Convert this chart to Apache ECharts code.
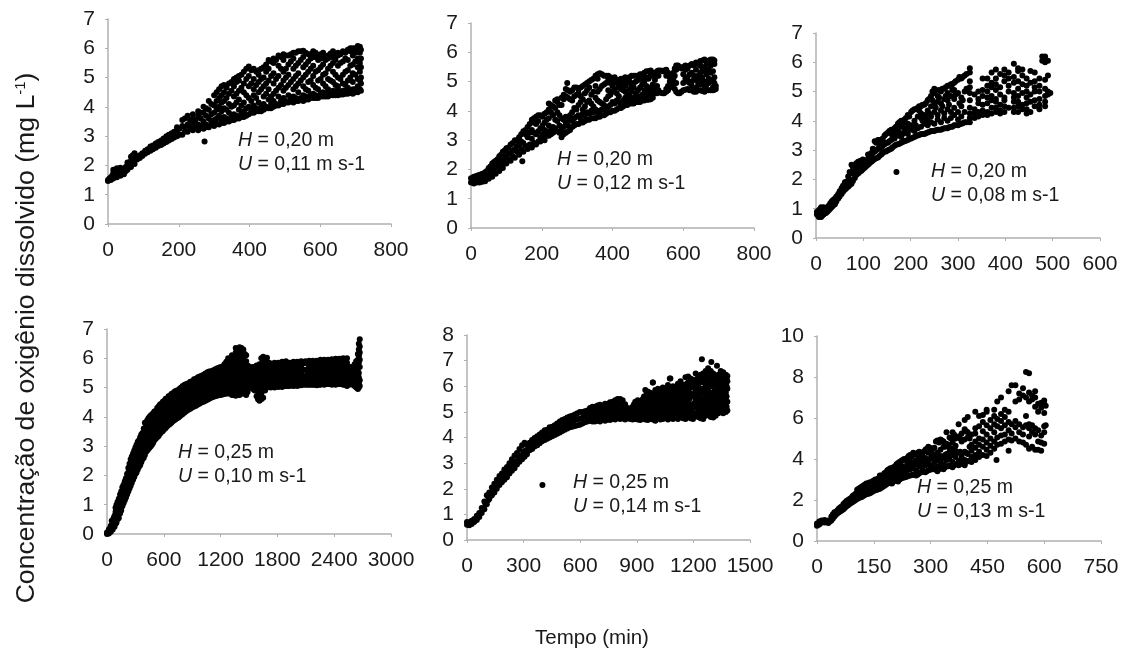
<!DOCTYPE html>
<html>
<head>
<meta charset="utf-8">
<style>
html, body { margin: 0; padding: 0; background: #fff; }
#chart { width: 1127px; height: 657px; }
</style>
<script src="https://cdn.jsdelivr.net/npm/echarts@6/dist/echarts.min.js"></script>
</head>
<body>
<div id="chart"></div>
<script>
// each row: time (min), then the concentrations read at that time
const panel1Rows = [
  [0,1.5,1.47],[8,1.5,1.6],[15,1.55,1.75,1.85],[25,1.6,1.8,1.9],[35,1.65,1.8,1.92],[45,1.7,1.85],
  [55,1.85,2.0,2.1],[65,1.95,2.15,2.3],[75,2.05,2.25,2.42],[90,2.25,2.35],[105,2.4,2.5],[120,2.5,2.65],
  [135,2.6,2.75],[150,2.7,2.85],[165,2.8,3.0],[180,2.9,3.1],[195,3.0,3.2,3.3],[210,3.05,3.35,3.55],
  [225,3.15,3.4,3.7],[240,3.2,3.45,3.6,3.75],[255,3.2,3.4,3.7,3.85],[270,3.25,3.5,3.8,4.0],[285,3.3,3.6,3.9,4.2],
  [300,3.35,3.55,3.8,4.05,4.4],[314,3.4,3.7,4.0,4.3,4.6],[328,3.45,3.65,3.95,4.2,4.5,4.75],[342,3.5,3.8,4.1,4.45,4.8],
  [356,3.55,3.75,4.05,4.35,4.7,4.95],[370,3.6,3.9,4.25,4.55,4.9,5.05],[384,3.65,3.85,4.15,4.5,4.8,5.2],
  [398,3.75,4.0,4.3,4.7,5.05,5.38],[412,3.8,4.05,4.4,4.6,4.95,5.3],[426,3.85,4.15,4.5,4.85,5.1,5.25],
  [440,3.9,4.1,4.35,4.7,5.0,5.35],[454,3.95,4.25,4.6,4.9,5.3,5.6],[468,4.0,4.2,4.45,4.8,5.15,5.5,5.65],
  [482,4.05,4.35,4.65,5.05,5.4,5.75],[496,4.1,4.3,4.55,4.9,5.2,5.6,5.8],[510,4.15,4.4,4.75,5.1,5.45,5.75],
  [524,4.15,4.35,4.6,4.95,5.3,5.65,5.85],[538,4.2,4.5,4.8,5.15,5.5,5.9],[552,4.2,4.4,4.7,5.0,5.35,5.7,5.92],
  [566,4.25,4.55,4.85,5.2,5.55,5.8],[580,4.3,4.45,4.75,5.05,5.4,5.7,5.9],[594,4.3,4.6,4.9,5.25,5.6,5.75],
  [608,4.35,4.5,4.8,5.1,5.45,5.7,5.85],[622,4.35,4.6,4.95,5.3,5.65,5.75],[636,4.4,4.55,4.85,5.2,5.5,5.7,5.9],
  [650,4.4,4.6,4.7,5.0,5.4,5.75,5.85],[664,4.42,4.55,4.8,5.1,5.55,5.9],[678,4.45,4.65,4.9,5.25,5.6,5.95],
  [692,4.45,4.6,4.85,5.15,5.45,5.75,6.0],[706,4.5,4.7,4.95,5.35,5.65,5.95,6.08],[715,4.55,4.8,5.0,5.35,5.65,5.95]
];
const panel1Fill = [
  [4,1.55],[12,1.65],[20,1.65,1.8],[30,1.7,1.85],[40,1.72,1.88],[50,1.8,1.95],[60,1.95,2.1],[70,2.05,2.2,2.35],[82,2.2,2.3],[97,2.32,2.42],
  [112,2.45,2.55],[127,2.55,2.68],[142,2.66,2.8],[157,2.75,2.92],[172,2.85,3.05],[187,2.95,3.15],[202,3.05,3.25],[217,3.15,3.3,3.6],
  [232,3.3,3.55],[247,3.3,3.55],[262,3.35,3.6,3.8],[277,3.3,3.4,3.7,3.95],[292,3.4,3.5,3.75,4.1],[307,3.42,3.6,3.9,4.2,4.5],
  [321,3.45,3.55,3.85,4.15,4.4,4.7],[335,3.5,3.6,3.9,4.3,4.65],[349,3.55,3.65,4.0,4.55,4.85],[363,3.6,3.7,4.15,4.45,4.85,5.0],
  [377,3.65,3.75,4.05,4.65,5.1],[391,3.7,3.95,4.4,4.95,5.3],[405,3.8,3.9,4.2,4.8,5.25],[419,3.85,3.95,4.3,4.75,5.2],[433,3.85,4.0,4.6,4.95,5.3],
  [447,3.95,4.0,4.45,4.8,5.2,5.45],[461,3.95,4.1,4.35,5.05,5.55],[475,4.05,4.1,4.55,4.95,5.6],[489,4.1,4.2,4.75,5.3,5.7],[503,4.15,4.2,4.65,5.0,5.3,5.75],
  [517,4.2,4.25,4.85,5.55,5.8],[531,4.2,4.3,4.7,5.05,5.4,5.85],[545,4.25,4.3,4.9,5.6,5.9],[559,4.25,4.35,4.6,5.1,5.45,5.85],[573,4.3,4.4,4.9,5.3,5.65,5.8],
  [587,4.3,4.4,4.65,5.2,5.7,5.85],[601,4.35,4.45,4.95,5.35,5.65,5.8],[615,4.35,4.45,4.7,5.15,5.6,5.72],[629,4.4,4.5,4.9,5.4,5.7,5.82],
  [643,4.4,4.5,4.75,5.1,5.6,5.75],[657,4.42,4.5,4.95,5.5,5.8],[671,4.45,4.55,4.75,5.2,5.65,5.85],[685,4.48,4.55,5.0,5.4,5.9,6.0],
  [699,4.5,4.6,5.1,5.55,5.85,6.0],[712,4.6,4.9,5.2,5.5,5.85,6.05]
];
const panel1Outliers = [[273,2.82]];

const panel2Rows = [
  [0,1.55,1.7],[8,1.52,1.62,1.75],[16,1.55,1.68,1.78],[24,1.55,1.7,1.82],[32,1.58,1.72,1.85],[40,1.6,1.78,1.9],
  [50,1.68,1.85,2.05],[60,1.75,1.95,2.2],[70,1.85,2.05,2.3],[80,1.95,2.2,2.45],[90,2.05,2.3,2.6],[100,2.2,2.45,2.72],
  [112,2.3,2.55,2.85],[124,2.4,2.7,3.0],[136,2.5,2.85,3.1],[148,2.6,2.9,3.3],[160,2.7,3.1,3.45],[172,2.75,3.05,3.35,3.7],
  [184,2.85,3.2,3.55,3.8],[196,2.95,3.1,3.4,3.85],[208,3.0,3.35,3.6,3.9],[220,3.15,3.5,3.75,4.05,4.25],[232,3.25,3.45,3.85,4.15],
  [244,3.3,3.65,3.95,4.3,4.4],[256,3.1,3.35,3.75,4.2,4.45],[268,3.25,3.6,3.8,4.5,4.75],[280,3.35,3.7,3.85,4.4,4.65],
  [292,3.5,3.75,4.1,4.5,4.8],[304,3.55,3.85,4.2,4.6,4.75],[316,3.6,3.9,4.05,4.4,4.85],[328,3.7,3.95,4.3,4.7,4.95],
  [340,3.75,4.0,4.25,4.55,5.05],[352,3.75,4.05,4.45,4.85,5.2],[364,3.8,4.0,4.3,4.75,5.28],[376,3.85,4.1,4.2,4.9,5.2],
  [388,3.95,4.15,4.5,4.7,5.1,5.2],[400,4.0,4.3,4.65,4.85,5.1],[412,4.05,4.35,4.6,4.95,5.05],[424,4.1,4.25,4.75,4.9,5.1],
  [436,4.2,4.45,4.65,4.85,5.15],[448,4.25,4.5,4.75,5.0,5.15],[460,4.25,4.45,4.8,4.95,5.2],[472,4.3,4.5,4.7,5.05,5.2],
  [484,4.35,4.55,4.9,5.1,5.25],[496,4.38,4.6,4.85,5.15,5.35],[508,4.4,4.55,4.8,5.2,5.38],[520,4.6,4.75,5.05,5.25],
  [530,4.65,4.7,5.2,5.38],[542,4.6,5.35],[552,4.65,4.75,5.2,5.4],[562,4.8,5.0,5.15],[572,4.9,5.1,5.3],[580,4.65,4.95,5.4,5.55],
  [590,4.6,5.5],[600,4.7,4.95,5.25,5.5],[612,4.75,5.0,5.15,5.45],[624,4.7,4.85,5.0,5.3,5.6],[636,4.65,4.8,5.1,5.4,5.65],
  [648,4.7,4.9,5.05,5.3,5.55,5.7],[660,4.65,4.85,5.0,5.35,5.5,5.75],[672,4.7,4.95,5.1,5.4,5.65,5.72],[684,4.7,4.8,5.05,5.35,5.75],[692,4.75,4.85]
];
const panel2Fill = [
  [4,1.6],[12,1.58,1.7],[20,1.6,1.72],[28,1.62,1.75],[36,1.68,1.8],[45,1.75,1.95],[55,1.8,1.98,2.1],[65,1.9,2.1,2.25],[75,2.0,2.2,2.35],
  [85,2.1,2.3,2.5],[95,2.2,2.4,2.65],[106,2.35,2.55,2.75],[118,2.45,2.65,2.9],[130,2.6,2.8,3.0],[142,2.7,2.95,3.2],[154,2.8,3.2,3.35],
  [166,2.85,3.25,3.55],[178,2.9,3.25,3.6,3.75],[190,2.95,3.3,3.65,3.85],[202,3.05,3.2,3.5,3.8],[214,3.15,3.3,3.7,3.95],[226,3.2,3.35,3.95,4.2],
  [238,3.3,3.4,3.7,4.1,4.35],[250,3.25,3.5,3.85,4.2],[262,3.2,3.45,3.7,4.4,4.55],[274,3.3,3.5,3.7,4.45,4.7],[286,3.45,3.65,3.95,4.35,4.7],
  [298,3.55,3.8,4.05,4.55,4.8],[310,3.6,3.75,4.3,4.5,4.8],[322,3.65,3.85,4.15,4.6,4.9],[334,3.7,3.9,4.35,4.8,5.0],[346,3.75,3.95,4.15,4.65,5.1],
  [358,3.8,3.95,4.35,4.65,5.1,5.25],[370,3.85,4.05,4.25,4.85,5.25],[382,3.9,4.05,4.4,4.95,5.2],[394,3.95,4.2,4.55,4.95,5.15],[406,4.0,4.25,4.75,5.0,5.15],
  [418,4.1,4.3,4.5,4.8,5.05],[430,4.15,4.35,4.7,5.0,5.1],[442,4.2,4.4,4.55,4.95,5.1],[454,4.25,4.4,4.65,4.9,5.2],[466,4.3,4.4,4.6,5.0,5.2],
  [478,4.3,4.45,4.8,5.1,5.25],[490,4.35,4.5,4.7,5.0,5.3],[502,4.38,4.5,4.7,5.1,5.35],[514,4.45,4.65,4.9,5.2,5.3],[526,4.6,4.85,5.2,5.35],
  [536,4.62,5.38],[546,4.6,5.38],[557,4.7,4.85,5.3],[567,4.85,5.05,5.22],[576,4.75,5.2,5.45],[585,4.6,5.55],[595,4.65,5.45],[606,4.72,5.1,5.4,5.55],
  [618,4.7,4.95,5.25,5.55],[630,4.65,5.05,5.2,5.55],[642,4.7,4.95,5.2,5.6],[654,4.68,5.15,5.45,5.72],[666,4.72,4.9,5.25,5.6],[678,4.7,5.0,5.3,5.55,5.75],[688,4.72,4.95,5.15,5.6,5.72]
];
const panel2Outliers = [[145,2.28],[272,4.95]];

const panel3Rows = [
  [2,0.8,0.9],[6,0.72,0.85,0.95],[11,0.72,0.85,1.05],[16,0.8,0.9,1.05],[21,0.85,1.0],[27,0.95,1.1],[33,1.05,1.25],[40,1.15,1.35],
  [47,1.35,1.5],[54,1.5,1.7],[61,1.65,1.9],[68,1.75,1.95,2.1],[75,1.85,2.2,2.5],[82,2.05,2.35,2.45],[89,2.2,2.4,2.6],
  [96,2.3,2.5,2.65],[103,2.4,2.6],[110,2.5,2.7,2.85],[117,2.6,2.8,2.9],[124,2.7,2.95,3.3],[131,2.75,3.05,3.35],
  [138,2.85,3.1,3.3],[145,2.95,3.2,3.5],[152,3.0,3.25,3.6],[159,3.05,3.35,3.55,3.7],[166,3.15,3.4,3.75],[173,3.2,3.5,3.65,3.9],
  [180,3.25,3.45,3.8,4.0],[187,3.3,3.6,3.75,4.05],[194,3.35,3.55,3.9,4.2],[201,3.4,3.7,3.85,4.3],[208,3.45,3.65,4.0,4.4],
  [215,3.5,3.75,4.15,4.45],[222,3.55,3.8,4.1,4.25,4.5],[229,3.55,3.9,4.2,4.55],[236,3.6,3.85,4.0,4.35,4.7],[243,3.65,3.95,4.15,4.5,4.85],
  [250,3.65,3.9,4.3,4.55,4.95,5.1],[257,3.7,4.05,4.2,4.65,4.85],[264,3.7,3.95,4.35,4.6,5.0],[271,3.75,4.1,4.25,4.75,5.1],
  [278,3.75,4.0,4.4,4.7,4.95,5.2],[285,3.8,4.1,4.3,4.85,5.25],[292,3.85,4.2,4.45,4.75,5.05,5.3],[300,3.85,4.05,4.3,4.95,5.4],
  [307,3.9,4.15,4.5,4.8,5.45],[314,3.95,4.3,5.0,5.55],[325,3.95,4.1,4.25,4.45,4.7,4.95,5.15,5.35,5.65,5.8],
  [335,4.1,4.25,4.4,4.9],[343,4.15,4.3,4.6,4.75,5.0],[352,4.2,4.35,4.55,4.85,5.05,5.45],[362,4.2,4.3,4.6,4.8,5.0,5.2,5.45],
  [371,4.25,4.45,4.7,4.85,5.15,5.3,5.65],[380,4.3,4.45,4.65,4.75,5.05,5.25,5.45,5.75],[389,4.25,4.35,4.55,4.9,5.15,5.6],
  [398,4.3,4.5,4.7,4.8,5.35,5.55,5.75],[407,4.45,5.0,5.2,5.45,5.65],[418,4.3,4.45,4.65,4.8,4.95,5.3,5.5,5.95],[427,4.3,4.5,4.65,4.85,5.1,5.35,5.7,5.8],
  [436,4.4,4.55,4.95,5.25,5.55,5.75],[445,4.25,4.4,4.6,4.8,5.0,5.2,5.45],[453,4.3,4.65,4.9,5.3,5.7],[462,4.5,4.7,5.0,5.15,5.35,5.65],
  [472,4.4,4.55,4.75,5.0,5.2,5.45],[478,6.2,6.05],[484,4.5,4.65,4.85,5.1,5.4,6.2,6.0],[490,4.9,5.0,5.55,6.05],[495,4.95]
];
const panel3Fill = [
  [4,0.78],[9,0.75,1.0],[14,0.78,0.95],[19,0.85,1.0],[24,0.9,1.05],[30,1.0,1.18],[36,1.1,1.3],[43,1.25,1.42],[50,1.42,1.6],[57,1.58,1.78],
  [64,1.7,1.92],[71,1.8,2.0,2.25],[78,1.95,2.25,2.42],[85,2.15,2.3,2.55],[92,2.25,2.45,2.62],[99,2.35,2.55,2.68],[106,2.45,2.65],[113,2.55,2.75,2.85],
  [120,2.65,2.9,3.05],[127,2.72,3.0,3.25],[134,2.8,3.05,3.2,3.35],[141,2.9,3.15,3.4],[148,2.95,3.25,3.55],[155,3.02,3.3,3.65],[162,3.1,3.4,3.7],
  [169,3.18,3.55,3.8],[176,3.22,3.6,3.95],[183,3.28,3.55,3.9],[190,3.32,3.65,4.1],[197,3.38,3.8,4.15],[204,3.42,3.75,4.35],[211,3.48,3.85,4.4],
  [218,3.52,4.35,4.5],[225,3.55,4.0,4.55],[232,3.58,4.1,4.6],[239,3.62,4.25,4.75],[246,3.65,4.7,5.0],[253,3.68,4.45,5.05],
  [260,3.7,4.8,5.05],[267,3.72,4.5,5.1],[274,3.75,4.85,5.15],[281,3.78,4.55,5.2],[288,3.8,5.05,5.25],
  [295,3.85,4.9,5.35],[303,3.88,4.6,5.5],[310,3.92,4.7,5.5],[318,3.95,5.1,5.6]
];
const panel3Outliers = [[170,2.25]];

const panel4Rows = [
  [0,0,0.05],[20,0.02,0.15],[40,0.08,0.28],[60,0.15,0.42],[80,0.25,0.62],[100,0.38,0.8,1.0],[125,0.55,0.85,1.2],[150,0.8,1.1,1.45],
  [175,1.05,1.35,1.68],[200,1.25,1.55,1.9],[225,1.45,1.75,2.1,2.25],[250,1.65,1.95,2.3,2.55],[275,1.85,2.15,2.5,2.75],
  [300,2.05,2.35,2.7,2.95],[325,2.2,2.5,2.8,3.15],[350,2.35,2.65,2.95,3.3],[375,2.55,2.8,3.1,3.45],[400,2.7,2.95,3.25,3.6,3.8],
  [425,2.85,3.05,3.35,3.65,3.88],[450,2.95,3.2,3.45,3.75,4.0],[475,3.05,3.3,3.6,3.85,4.08],[500,3.2,3.4,3.65,3.95,4.18],
  [530,3.3,3.55,3.8,4.05,4.3],[560,3.42,3.65,3.9,4.15,4.42],[590,3.52,3.75,4.0,4.25,4.52],[620,3.62,3.85,4.1,4.35,4.62],
  [650,3.72,3.95,4.2,4.45,4.7],[680,3.8,4.02,4.25,4.5,4.78],[710,3.88,4.1,4.35,4.6,4.85],[740,3.95,4.18,4.4,4.65,4.9],
  [770,4.02,4.25,4.5,4.72,4.97],[800,4.1,4.32,4.55,4.8,5.05],[840,4.2,4.4,4.62,4.85,5.12],[880,4.28,4.5,4.7,4.95,5.2],
  [920,4.35,4.55,4.78,5.0,5.28],[960,4.42,4.62,4.85,5.1,5.35],[1000,4.5,4.7,4.92,5.15,5.4],[1040,4.55,4.75,5.0,5.25,5.48],
  [1080,4.62,4.82,5.05,5.3,5.55],[1120,4.68,4.88,5.1,5.35,5.58],[1160,4.72,4.92,5.15,5.4,5.65],[1200,4.75,4.95,5.2,5.45,5.7],
  [1240,4.78,5.0,5.22,5.5,5.8],[1280,4.8,5.0,5.25,5.55,5.8,6.0],[1320,4.75,5.0,5.3,5.6,5.85,6.1],[1360,4.72,5.0,5.25,5.6,5.9,6.2,6.35],
  [1400,4.75,5.0,5.3,5.65,6.0,6.25,6.38],[1440,4.8,5.05,5.35,5.7,6.0,6.3],[1470,4.75,5.05,5.3,5.6,5.9,6.1],[1500,5.0,5.2,5.4,5.6,5.72],
  [1540,4.95,5.15,5.35,5.55,5.7],[1580,4.7,4.95,5.2,5.4,5.6,5.75],[1610,4.55,4.85,5.1,5.35,5.6,5.8],[1650,4.65,4.95,5.2,5.45,5.7,5.9,6.05],
  [1690,5.0,5.2,5.4,5.65,5.85,6.02],[1730,5.0,5.2,5.4,5.6,5.82],[1770,5.0,5.2,5.42,5.65,5.85],[1810,5.02,5.22,5.4,5.6,5.85],
  [1850,5.02,5.2,5.42,5.65,5.88],[1890,5.05,5.25,5.45,5.65,5.9],[1930,5.05,5.22,5.42,5.62,5.85],[1970,5.05,5.25,5.45,5.68,5.88],
  [2010,5.05,5.25,5.42,5.62,5.88],[2050,5.08,5.28,5.48,5.7,5.9],[2095,5.1,5.3,5.6,5.9],[2135,5.1,5.3,5.5,5.7,5.92],
  [2175,5.1,5.3,5.5,5.72,5.92],[2215,5.08,5.28,5.48,5.7,5.92],[2255,5.1,5.3,5.52,5.72,5.95],[2295,5.1,5.32,5.5,5.75,5.95],
  [2335,5.12,5.3,5.52,5.72,5.95],[2375,5.1,5.3,5.5,5.75,5.97],[2415,5.1,5.3,5.52,5.75,5.98],[2455,5.12,5.32,5.55,5.75,5.98],
  [2495,5.1,5.3,5.52,5.75,6.0],[2535,5.05,5.25,5.45,5.65,5.85,6.0],[2575,5.15,5.35,5.5,5.65],[2615,5.05,5.25,5.45,5.65,5.8],
  [2650,4.95,5.15,5.35,5.55,5.75,5.95,6.15],[2670,5.05,5.25,5.7,5.95,6.2,6.4,6.65]
];
const panel4Fill = [
  [10,0.05],[30,0.1,0.2],[50,0.15,0.3,0.45],[70,0.25,0.4,0.55],[90,0.35,0.55,0.75,0.9],[112,0.5,0.7,0.95,1.1],[138,0.7,0.95,1.2,1.35],[162,0.95,1.2,1.45,1.6],
  [188,1.15,1.4,1.65,1.8],[212,1.35,1.6,1.85,2.05],[238,1.55,1.8,2.05,2.3,2.4],[262,1.75,2.0,2.25,2.5,2.65],[288,1.95,2.2,2.45,2.7,2.85],[312,2.1,2.35,2.6,2.85,3.05],
  [338,2.3,2.5,2.75,3.0,3.2],[362,2.45,2.7,2.95,3.2,3.4],[388,2.6,2.85,3.1,3.35,3.6],[412,2.8,3.0,3.2,3.45,3.75],[438,2.9,3.1,3.3,3.55,3.8,3.95],
  [462,3.0,3.2,3.45,3.7,3.95,4.05],[488,3.12,3.3,3.52,3.8,4.0,4.12],[515,3.25,3.48,3.72,3.98,4.2],[545,3.35,3.58,3.82,4.08,4.35],[575,3.48,3.7,3.95,4.2,4.45],
  [605,3.58,3.8,4.05,4.3,4.55],[635,3.68,3.9,4.15,4.38,4.62],[665,3.76,4.0,4.22,4.48,4.72],[695,3.85,4.05,4.3,4.55,4.8],[725,3.92,4.15,4.38,4.62,4.88],
  [755,3.98,4.2,4.42,4.68,4.92],[785,4.06,4.28,4.5,4.75,5.0],[820,4.15,4.35,4.55,4.8,5.05,5.1],[860,4.24,4.45,4.65,4.9,5.15],[900,4.32,4.52,4.72,4.98,5.22],
  [940,4.38,4.58,4.8,5.05,5.3],[980,4.46,4.66,4.88,5.12,5.38],[1020,4.52,4.72,4.95,5.2,5.44],[1060,4.58,4.78,5.02,5.28,5.52],[1100,4.65,4.85,5.08,5.32,5.56],
  [1140,4.7,4.9,5.12,5.38,5.62],[1180,4.74,4.92,5.18,5.42,5.68],[1220,4.76,4.98,5.22,5.48,5.72],[1260,4.8,4.9,5.1,5.38,5.65,5.88],[1300,4.8,4.9,5.12,5.42,5.7,5.95],
  [1340,4.75,4.88,5.12,5.45,5.75,6.05],[1380,4.75,4.88,5.15,5.48,5.8,6.1,6.32],[1420,4.8,4.9,5.18,5.5,5.85,6.15,6.35],[1455,4.8,4.92,5.2,5.5,5.85,6.15],
  [1485,4.85,5.1,5.3,5.5,5.75],[1520,5.0,5.1,5.3,5.5,5.65],[1560,4.9,5.05,5.25,5.45,5.65],[1595,4.6,4.75,5.0,5.25,5.5,5.7],[1630,4.6,4.8,5.05,5.3,5.55,5.8,6.0],
  [1670,4.9,5.1,5.3,5.55,5.8,5.98],[1710,5.05,5.1,5.3,5.5,5.7,5.85],[1750,5.05,5.1,5.3,5.52,5.75],[1790,5.05,5.12,5.32,5.52,5.75],[1830,5.05,5.12,5.32,5.55,5.78],
  [1870,5.05,5.15,5.35,5.55,5.78],[1910,5.05,5.15,5.35,5.55,5.75],[1950,5.08,5.15,5.35,5.58,5.78],[1990,5.08,5.15,5.35,5.55,5.78],[2030,5.08,5.18,5.38,5.6,5.8],
  [2070,5.1,5.2,5.4,5.62,5.82],[2115,5.1,5.2,5.42,5.62,5.82],[2155,5.1,5.2,5.4,5.62,5.82],[2195,5.1,5.2,5.4,5.6,5.82],[2235,5.1,5.2,5.42,5.62,5.84],
  [2275,5.12,5.2,5.42,5.64,5.85],[2315,5.12,5.22,5.42,5.64,5.85],[2355,5.12,5.2,5.4,5.64,5.86],[2395,5.12,5.2,5.42,5.64,5.86],[2435,5.12,5.22,5.44,5.64,5.88],
  [2475,5.12,5.2,5.42,5.64,5.88],[2515,5.1,5.15,5.35,5.55,5.75,5.9],[2555,5.1,5.25,5.4,5.6,5.72],[2595,5.1,5.25,5.4,5.55,5.7],[2632,5.0,5.15,5.35,5.55,5.75,5.9],
  [2660,5.0,5.15,5.35,5.5,5.85,6.1,6.3,6.5],
  [505,3.3,3.52,3.8,4.06],[535,3.42,3.67,3.92,4.18],[565,3.54,3.78,4.03,4.28],[595,3.64,3.88,4.12,4.38],[625,3.74,3.98,4.22,4.48],[655,3.84,4.08,4.32,4.58],
  [685,3.92,4.14,4.38,4.64],[715,4.0,4.22,4.48,4.72],[745,4.06,4.3,4.52,4.78],[775,4.14,4.38,4.6,4.85],[805,4.22,4.44,4.68,4.92],[845,4.3,4.52,4.74,5.0],
  [885,4.4,4.6,4.82,5.08],[925,4.46,4.66,4.9,5.14],[965,4.52,4.74,4.98,5.22],[1005,4.6,4.82,5.04,5.28],[1045,4.65,4.88,5.12,5.36],[1085,4.72,4.94,5.18,5.42],
  [1125,4.78,5.0,5.22,5.46],[1165,4.82,5.04,5.28,5.52],[1205,4.85,5.08,5.32,5.58],[1245,4.88,5.1,5.36,5.65],[1285,4.95,5.15,5.4,5.68,5.9],[1325,4.88,5.15,5.45,5.72,5.98],
  [1365,4.85,5.12,5.42,5.75,6.05],[1405,4.88,5.15,5.48,5.82,6.12],[1445,4.92,5.2,5.52,5.85,6.15]
];
const panel4Outliers = [[2660,6.1]];

const panel5Rows = [
  [0,0.6,0.7],[12,0.58,0.68],[25,0.62,0.75],[38,0.7,0.82],[52,0.78,0.95],[65,0.9,1.05],[78,1.05,1.25],[92,1.2,1.5],[105,1.4,1.75],
  [118,1.6,1.85],[132,1.75,2.05],[145,1.85,2.2],[158,2.0,2.35],[172,2.15,2.5],[185,2.25,2.6],[198,2.35,2.75],[212,2.45,2.85],
  [225,2.6,3.0],[238,2.7,3.15],[252,2.8,3.3],[265,2.95,3.4],[278,3.05,3.55],[292,3.15,3.7],[305,3.25,3.8],[318,3.35,3.72],
  [332,3.5,3.8],[345,3.55,3.9],[358,3.65,3.98],[372,3.7,4.05],[385,3.78,4.12],[398,3.85,4.2],[412,3.9,4.28],[425,3.95,4.3],
  [438,4.0,4.4],[452,4.05,4.42],[465,4.1,4.48],[478,4.15,4.55],[492,4.2,4.62],[505,4.25,4.68],[518,4.3,4.72],[532,4.35,4.78],
  [545,4.4,4.82],[558,4.42,4.85],[572,4.45,4.9],[585,4.48,4.95],[598,4.5,5.0],[612,4.55,5.0],[625,4.6,5.02],[638,4.62,5.05],
  [652,4.65,4.9,5.15],[665,4.62,4.85,5.2],[678,4.62,4.95,5.2],[692,4.65,4.9,5.25],[705,4.62,4.95,5.28],[718,4.68,4.95,5.25],
  [732,4.65,5.0,5.32],[745,4.7,5.0,5.3],[758,4.68,5.05,5.38],[772,4.72,5.0,5.4],[785,4.7,5.05,5.45],[798,4.75,5.1,5.5],
  [812,4.72,5.05,5.5],[825,4.75,5.1,5.45],[838,4.7,5.0,5.3],[852,4.75,4.95,5.15],[865,4.72,4.9,5.1],[878,4.7,4.95,5.2],
  [892,4.72,5.0,5.4],[905,4.7,4.95,5.25,5.45],[918,4.68,5.0,5.3,5.4],[932,4.72,4.95,5.2,5.5],[945,4.7,5.0,5.35,5.85],
  [958,4.68,4.95,5.25,5.6,5.8],[972,4.72,5.05,5.35,5.55,5.75],[985,4.7,5.0,5.3,5.65,6.15],[998,4.65,4.95,5.2,5.5,5.85],
  [1012,4.75,5.05,5.4,5.7,5.9],[1025,4.7,5.0,5.3,5.55,5.8],[1038,4.72,5.05,5.35,5.65,5.95],[1052,4.78,5.1,5.4,5.7,5.9],
  [1065,4.7,5.0,5.3,5.55,5.85,6.05],[1078,4.75,5.05,5.45,5.8,6.3],[1092,4.72,5.0,5.35,5.7,6.0],[1105,4.8,5.1,5.45,5.6,5.9],
  [1118,4.72,5.0,5.3,5.75,6.1],[1132,4.8,5.15,5.55,5.9,6.2],[1145,4.75,5.05,5.4,5.75,6.05],[1158,4.72,5.0,5.35,5.65,6.0,6.35],
  [1172,4.8,5.1,5.5,5.8,6.15,6.38],[1185,4.75,5.05,5.3,5.7,6.0,6.3],[1198,4.72,5.15,5.6,5.95,6.25],[1212,4.85,5.2,5.5,5.85,6.2,6.5],
  [1225,4.8,5.05,5.4,5.7,6.05,6.4],[1238,4.75,5.1,5.55,5.9,6.3,6.45],[1252,4.72,5.0,5.3,5.75,6.15,6.5],[1265,4.85,5.2,5.6,6.0,6.35,6.6],
  [1278,4.95,5.25,5.55,5.85,6.25,6.7],[1292,4.8,5.1,5.5,6.0,6.35,6.6],[1305,4.78,5.05,5.4,5.75,6.2,6.5],[1318,4.85,5.25,5.65,6.05,6.4],
  [1332,4.95,5.2,5.5,5.8,6.15,6.45],[1345,5.0,5.3,5.7,6.1,6.5,6.6],[1358,4.95,5.25,5.6,5.9,6.3,6.55],[1372,5.0,5.35,5.75,6.15,6.45],[1380,5.05,5.4,5.9,6.2,6.4]
];
const panel5Fill = [
  [98,1.4],[112,1.55],[125,1.72],[138,1.9],[152,2.02],[165,2.18],[178,2.32],[192,2.45],[205,2.55],[218,2.68],[232,2.8],[245,2.95],[258,3.05],[272,3.2],[285,3.3],
  [298,3.45],[312,3.5],[325,3.55],[338,3.65],[352,3.72],[365,3.82],[378,3.9],[392,4.0],[405,4.05],[418,4.1],[432,4.15],[445,4.22],[458,4.28],[472,4.32],[485,4.38],
  [498,4.42],[512,4.5],[525,4.52],[538,4.58],[552,4.62],[565,4.65],[578,4.7],[592,4.72],[605,4.75],[618,4.8],[632,4.82],[645,4.75,4.95],[658,4.8,5.0],[672,4.75,5.05],
  [685,4.8,5.1],[698,4.78,5.1],[712,4.8,5.1],[725,4.8,5.12],[738,4.85,5.15],[752,4.85,5.18],[765,4.85,5.2],[778,4.85,5.22],[792,4.9,5.28],[805,4.9,5.3],[818,4.9,5.3],
  [832,4.88,5.15],[845,4.85,5.05],[858,4.82,5.02],[872,4.82,5.05],[885,4.85,5.1,5.3],[898,4.85,5.1,5.3],[912,4.82,5.1,5.35],[925,4.85,5.1,5.4],[938,4.82,5.1,5.3,5.6],
  [952,4.85,5.15,5.4,5.7],[965,4.85,5.2,5.45],[978,4.85,5.15,5.5,5.7],[992,4.82,5.1,5.4,5.7],[1005,4.9,5.2,5.55],[1018,4.85,5.15,5.45,5.7],[1032,4.85,5.2,5.5,5.8],
  [1045,4.9,5.25,5.55,5.8],[1058,4.85,5.15,5.45,5.75],[1072,4.85,5.2,5.6,5.95],[1085,4.85,5.2,5.5,5.85],[1098,4.9,5.25,5.55,5.8],[1112,4.85,5.15,5.65,5.95],
  [1125,4.9,5.2,5.45,5.85],[1138,4.9,5.25,5.6,6.0],[1152,4.85,5.2,5.55,5.9],[1165,4.9,5.25,5.65,6.1],[1178,4.9,5.2,5.5,5.9],[1192,4.85,5.2,5.7,6.1],[1205,4.95,5.35,5.7,6.05],
  [1218,4.9,5.25,5.55,5.95,6.25],[1232,4.9,5.3,5.75,6.15],[1245,4.85,5.2,5.45,5.9,6.25],[1258,5.0,5.4,5.8,6.2],[1272,5.1,5.4,5.7,6.05,6.45],[1285,4.95,5.3,5.75,6.2,6.5],
  [1298,4.9,5.25,5.6,6.1],[1312,5.05,5.45,5.85,6.25],[1325,5.1,5.35,5.65,6.0,6.3],[1338,5.15,5.5,5.9,6.3],[1352,5.1,5.45,5.75,6.1,6.4],[1365,5.15,5.55,5.95,6.3],[1376,5.2,5.6,6.0,6.3]
];
const panel5Outliers = [[1245,7.05],[1295,6.95],[1325,6.8],[1075,6.3],[985,6.15],[400,2.15]];

const panel6Rows = [
  [0,0.75,0.85],[6,0.8,0.95],[12,0.9,1.0],[20,0.9,1.02],[30,0.88,1.0],[38,1.0,1.2],[46,1.2,1.4],[54,1.35,1.5],[62,1.45,1.65],[70,1.55,1.8],
  [78,1.7,1.95],[86,1.8,2.05],[94,1.9,2.2],[102,2.0,2.3],[110,2.1,2.4,2.55],[118,2.15,2.5,2.65],[126,2.25,2.55,2.75],[134,2.3,2.65,2.8],
  [142,2.35,2.6,2.85],[150,2.45,2.7,2.95],[158,2.5,2.8,3.0],[166,2.55,2.85,3.2],[174,2.65,2.95,3.1],[182,2.75,3.05,3.35],[190,2.85,3.1,3.5],
  [198,2.8,3.2,3.55],[206,3.0,3.3,3.65],[214,2.9,3.15,3.45,3.8],[222,3.05,3.4,3.7,3.9],[230,3.1,3.35,3.6,4.0],[238,3.15,3.45,3.75,4.05],
  [246,3.2,3.5,3.85,4.2],[254,3.25,3.55,3.7,4.3],[262,3.2,3.45,3.95,4.25],[270,3.3,3.65,3.8,4.1,4.35],[278,3.4,3.6,3.9,4.2],
  [286,3.35,3.7,4.05,4.45],[294,3.45,3.75,3.95,4.3,4.6],[302,3.5,3.7,4.1,4.4],[310,3.55,3.85,4.2,4.55],[318,3.4,3.65,3.95,4.3,4.9],
  [326,3.6,3.85,4.15,4.45,4.95],[334,3.5,3.75,4.05,4.6,4.85],[342,3.65,3.95,4.25,4.75,5.3],[350,3.7,4.0,4.35,4.55,5.05],[358,3.6,3.85,4.2,4.5,4.8,5.3],
  [366,3.75,4.1,4.4,4.65,5.0],[374,3.7,3.9,4.3,5.1,5.7],[382,3.8,4.05,4.2,4.85,5.25],[390,3.7,3.95,4.35,4.95,5.45,5.9],[398,3.9,4.25,5.05,5.3,6.05],
  [408,3.85,4.1,4.4,4.7,5.2],[418,3.95,4.2,4.55,4.85,5.25,5.5,6.3],[428,4.1,4.35,4.7,5.0,5.6,6.1],[438,4.2,4.6,4.95,5.35,5.8,6.15],[448,4.15,4.45,4.8,5.2,5.65,6.3,6.4],
  [458,4.3,4.65,5.0,5.5,5.9],[468,4.5,4.85,5.3,5.7,6.1,6.4],[476,4.7,5.05,5.6,5.95,6.8],[486,4.75,5.15,5.5,5.85,6.2,7.0],
  [496,4.85,5.2,5.65,6.05,6.4],[506,4.4,4.95,5.4,5.8,6.3,7.3],[514,4.9,5.25,5.7,7.6],[524,5.0,5.55,5.85,6.8,7.6],[534,4.85,5.3,5.7,6.9,7.2],
  [544,4.8,5.2,5.55,7.1,7.45],[552,4.7,5.65,6.1,7.0,8.25],[560,4.5,5.1,5.5,5.7,6.8,7.25,8.18],[568,4.6,5.3,5.65,6.9,7.1],
  [576,4.45,5.2,5.5,6.55,7.0,7.3],[584,4.45,4.85,5.4,6.3,6.7],[592,4.4,4.8,5.15,6.5,6.75],[600,4.75,5.3,5.6,6.25,6.7,6.85],[604,5.65,6.6]
];
const panel6Fill = [
  [3,0.8],[9,0.88],[16,0.95],[25,0.92],[34,0.95],[42,1.1,1.3],[50,1.28,1.42],[58,1.4,1.58],[66,1.5,1.7],[74,1.62,1.88],[82,1.75,2.0],[90,1.85,2.1],[98,1.95,2.25],
  [106,2.05,2.2,2.35,2.5],[114,2.12,2.3,2.45,2.6],[122,2.2,2.4,2.6,2.7],[130,2.28,2.45,2.6,2.8],[138,2.32,2.5,2.7,2.85],[146,2.4,2.55,2.75,2.9],[154,2.48,2.62,2.9,3.0],
  [162,2.52,2.7,2.95,3.05],[170,2.6,2.8,3.05,3.2],[178,2.7,2.9,3.2,3.3],[186,2.8,3.0,3.25,3.45],[194,2.82,3.05,3.35,3.55],[202,2.9,3.15,3.45,3.6],[210,2.95,3.25,3.55,3.75],
  [218,3.0,3.3,3.6,3.85],[226,3.08,3.25,3.55,3.95],[234,3.12,3.3,3.95],[242,3.18,3.65,4.15],[250,3.22,3.8,4.1],[258,3.22,3.85,4.25],[266,3.25,3.75,4.3],
  [274,3.35,3.85,4.3],[282,3.38,3.95,4.35],[290,3.4,3.9,4.5],[298,3.48,4.0,4.55],[306,3.5,4.15,4.5],[314,3.48,4.05,4.85],
  [322,3.5,4.0,4.8],[330,3.55,4.1,4.9],[338,3.6,4.2,4.6],[346,3.65,4.25,4.7],[354,3.65,4.5,5.0],[362,3.7,4.3,5.2],
  [378,3.75,4.35,5.0],[394,3.85,4.3,5.35],[403,3.9,4.6,5.0]
];
const panel6Outliers = [[474,3.95]];

// tick settings per panel
const xMaxes = [800, 800, 600, 3000, 1500, 750];
const xSteps = [200, 200, 100, 600, 300, 150];
const yMaxes = [7, 7, 7, 7, 8, 10];
const ySteps = [1, 1, 1, 1, 1, 2];

const depthLabels = ['0,20', '0,20', '0,20', '0,25', '0,25', '0,25'];
const speedLabels = ['0,11', '0,12', '0,08', '0,10', '0,14', '0,13'];

const allRows = [panel1Rows, panel2Rows, panel3Rows, panel4Rows, panel5Rows, panel6Rows];
const allFill = [panel1Fill, panel2Fill, panel3Fill, panel4Fill, panel5Fill, panel6Fill];
const allOutliers = [panel1Outliers, panel2Outliers, panel3Outliers, panel4Outliers, panel5Outliers, panel6Outliers];

// left, top, width, height of the plot boxes
const boxes = [
  [108, 19, 283, 205],
  [471, 23, 283, 205],
  [816, 33, 284, 205],
  [107, 329, 284, 205],
  [467, 335, 283, 205],
  [817, 336, 284, 205]
];
// where the H / U notes start
const notes = [[238, 142], [557, 161], [931, 173], [178, 454], [573, 484], [917, 489]];

function flatten(rows, fill, extra) {
  let out = [];
  rows.concat(fill).forEach(function (row) {
    for (let i = 1; i < row.length; i++) out.push([row[0], row[i]]);
  });
  return out.concat(extra);
}

const tickFont = { color: '#1a1a1a', fontSize: 21, fontFamily: 'Liberation Sans' };
const axisGray = '#b0b0b0';
let grids = [], xAxes = [], yAxes = [], series = [], graphics = [];

boxes.forEach(function (b, i) {
  grids.push({ left: b[0], top: b[1], width: b[2], height: b[3] });
  xAxes.push({
    type: 'value', gridIndex: i, min: 0, max: xMaxes[i], interval: xSteps[i],
    splitLine: { show: false },
    axisLine: { onZero: false, lineStyle: { color: axisGray, width: 1.5 } },
    axisTick: { show: true, length: 3, lineStyle: { color: axisGray } },
    axisLabel: Object.assign({ margin: 16, hideOverlap: false, showMinLabel: true, showMaxLabel: true, formatter: function (v) { return String(v); } }, tickFont)
  });
  yAxes.push({
    type: 'value', gridIndex: i, min: 0, max: yMaxes[i], interval: ySteps[i],
    splitLine: { show: false },
    axisLine: { show: true, onZero: false, lineStyle: { color: axisGray, width: 1.5 } },
    axisTick: { show: true, length: 3, lineStyle: { color: axisGray } },
    axisLabel: Object.assign({ margin: 13, showMinLabel: true, showMaxLabel: true }, tickFont)
  });
  series.push({
    type: 'scatter', xAxisIndex: i, yAxisIndex: i, clip: false, silent: true,
    symbol: 'circle', symbolSize: 6, itemStyle: { color: '#000', opacity: 1 },
    data: flatten(allRows[i], allFill[i], allOutliers[i])
  });
  let rich = { i: { fontStyle: 'italic', fontSize: 19.5, fontFamily: 'Liberation Sans', fill: '#1a1a1a' } };
  graphics.push({
    type: 'text', left: notes[i][0], top: notes[i][1] - 11, silent: true,
    style: { text: '{i|H} = ' + depthLabels[i] + ' m', fontSize: 19.5, fontFamily: 'Liberation Sans', fill: '#1a1a1a', rich: rich }
  });
  graphics.push({
    type: 'text', left: notes[i][0], top: notes[i][1] + 13, silent: true,
    style: { text: '{i|U} = ' + speedLabels[i] + ' m s-1', fontSize: 19.5, fontFamily: 'Liberation Sans', fill: '#1a1a1a', rich: rich }
  });
});

graphics.push({
  type: 'text', left: 535, top: 628, silent: true,
  style: { text: 'Tempo (min)', fontSize: 20.5, fontFamily: 'Liberation Sans', fill: '#1a1a1a' }
});
graphics.push({
  type: 'text', x: 27, y: 338, rotation: Math.PI / 2, silent: true,
  style: {
    text: '{a|Concentração de oxigênio dissolvido (mg L}{s|-1}{a|)}',
    align: 'center', verticalAlign: 'middle', fill: '#1a1a1a',
    rich: {
      a: { fontSize: 26.6, fontFamily: 'Liberation Sans', fill: '#1a1a1a' },
      s: { fontSize: 15, fontFamily: 'Liberation Sans', fill: '#1a1a1a', verticalAlign: 'top' }
    }
  }
});

let myChart = echarts.init(document.getElementById('chart'), null, { renderer: 'canvas' });
myChart.setOption({
  animation: false,
  backgroundColor: '#fff',
  grid: grids,
  xAxis: xAxes,
  yAxis: yAxes,
  series: series,
  graphic: graphics
});
</script>
</body>
</html>
